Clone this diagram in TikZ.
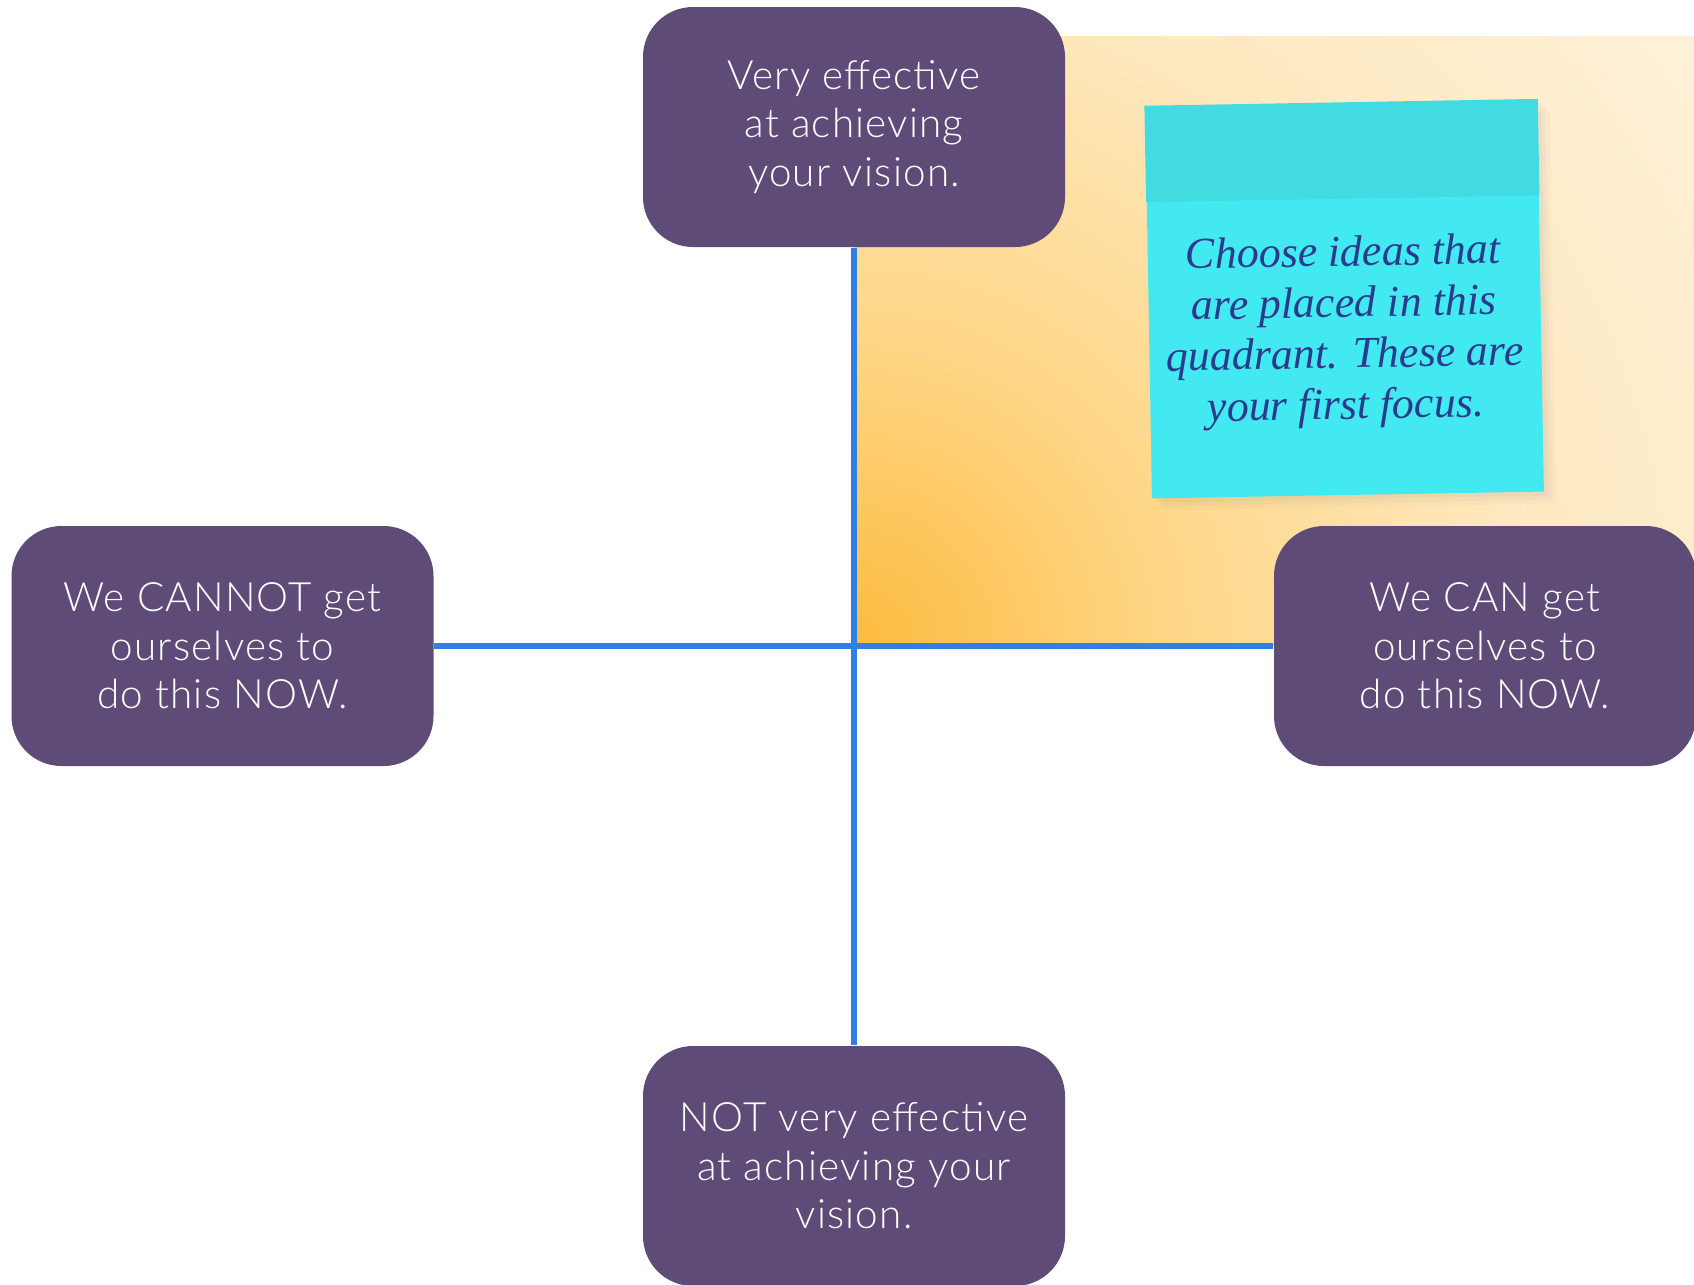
\documentclass[tikz,border=0pt]{standalone}
\usepackage{fontspec}
\setmainfont{Lato Light}[LetterSpace=3]
\newfontfamily\notefont{Liberation Serif}
\usetikzlibrary{calc, shadows}

\definecolor{boxpurple}{RGB}{94,75,120}
\definecolor{axisblue}{RGB}{47,128,224}
\definecolor{notecyan}{RGB}{67,233,240}
\definecolor{notetop}{RGB}{66,219,226}
\definecolor{noteink}{RGB}{43,59,140}
\definecolor{glowA}{RGB}{253,187,62}
\definecolor{glowB}{RGB}{254,214,134}
\definecolor{glowC}{RGB}{254,232,190}
\definecolor{glowD}{RGB}{255,244,228}
\definecolor{glowE}{RGB}{255,251,246}
\pgfdeclareradialshading{quadglow}{\pgfpointorigin}{color(0bp)=(glowA); color(7bp)=(glowB); color(15bp)=(glowC); color(27bp)=(glowD); color(50bp)=(glowE)}

\begin{document}
\begin{tikzpicture}[
    axisbox/.style={rectangle, rounded corners=0.5cm, fill=boxpurple, text=white, minimum width=4.22cm, minimum height=2.4cm, align=center, font=\fontsize{11.5}{13.8}\selectfont},
    axisline/.style={draw=axisblue, line width=0.065cm},
    sticky/.style={rectangle, fill=notecyan, minimum width=3.92cm, minimum height=3.92cm, rotate=1,
        drop shadow={shadow xshift=0.12cm, shadow yshift=-0.12cm, opacity=0.04},
        drop shadow={shadow xshift=0.08cm, shadow yshift=-0.08cm, opacity=0.05},
        drop shadow={shadow xshift=0.04cm, shadow yshift=-0.04cm, opacity=0.06}}]
    \useasboundingbox (0,0) rectangle (16.94,-12.84);
    \clip (0,0) rectangle (16.94,-12.84);

    % Quadrant
    \begin{scope}
        \clip (8.54,-0.36) rectangle (16.94,-6.46);
        \shade[shading=quadglow] (8.54,-6.46) circle (11);
    \end{scope}

    % Nodes
    \node (effective) [axisbox] at (8.54,-1.27) {Very effective\\at achieving\\your vision.};
    \node (cannot) [axisbox] at (2.225,-6.46) {We CANNOT get\\ourselves to\\do this NOW.};
    \node (can) [axisbox] at (14.85,-6.46) {We CAN get\\ourselves to\\do this NOW.};
    \node (noteffective) [axisbox] at (8.54,-11.66) {NOT very effective\\at achieving your\\vision.};

    % Axes
    \draw[axisline] (effective) -- (noteffective);
    \draw[axisline] (cannot) -- (can);

    % Sticky note
    \node (note) [sticky] at (13.445,-2.99) {};
    \fill[notetop] (note.north west) -- (note.north east) -- ($(note.north east)!0.245!(note.south east)$) -- ($(note.north west)!0.245!(note.south west)$) -- cycle;
    \node (notetext) [rotate=1, text=noteink, align=center, font=\notefont\itshape\fontsize{12.5}{14.5}\selectfont] at ([yshift=-0.33cm]note.center) {Choose ideas that\\are placed in this\\quadrant. These are\\your first focus.};
\end{tikzpicture}
\end{document}
